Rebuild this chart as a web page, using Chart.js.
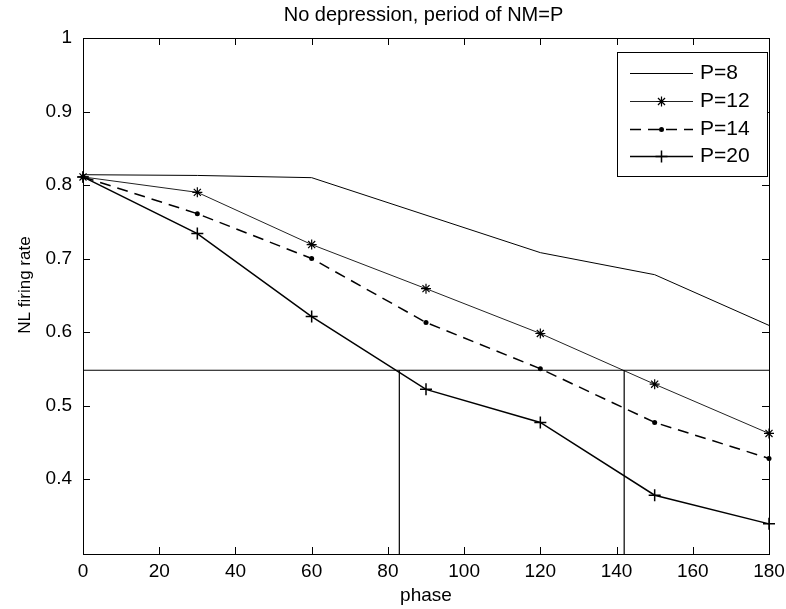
<!DOCTYPE html>
<html><head><meta charset="utf-8">
<script src="https://cdn.jsdelivr.net/npm/chart.js@4/dist/chart.umd.min.js"></script>
<style>html,body{margin:0;padding:0;background:#fff}canvas{display:block}</style>
</head><body>
<canvas id="c" width="786" height="609"></canvas>
<script>
const chartTitle = "No depression, period of NM=P";
const xAxisLabel = "phase";
const yAxisLabel = "NL firing rate";
const seriesNames = ["P=8", "P=12", "P=14", "P=20"];
const phases = [0, 30, 60, 90, 120, 150, 180];
const rateP8  = [0.814, 0.813, 0.810, 0.759, 0.708, 0.678, 0.609];
const rateP12 = [0.811, 0.790, 0.719, 0.659, 0.598, 0.529, 0.462];
const rateP14 = [0.811, 0.761, 0.700, 0.613, 0.550, 0.477, 0.428];
const rateP20 = [0.811, 0.734, 0.621, 0.522, 0.477, 0.378, 0.339];
const xTicks = [0, 20, 40, 60, 80, 100, 120, 140, 160, 180];
const yTicks = [0.4, 0.5, 0.6, 0.7, 0.8, 0.9, 1];
const xMin = 0, xMax = 180, yMin = 0.298, yMax = 1;
const refLevel = 0.548;
const crossPhases = [83, 142];

const FONT = '"Liberation Sans", Arial, Helvetica, sans-serif';
Chart.defaults.font.family = FONT;
Chart.defaults.color = '#000';

const pts = ys => phases.map((p, i) => ({x: p, y: ys[i]}));

const seriesDatasets = [
  {label: seriesNames[0], data: pts(rateP8), borderColor: '#000', borderWidth: 1, pointRadius: 0, pointStyle: false},
  {label: seriesNames[1], data: pts(rateP12), borderColor: '#222', borderWidth: 1, pointStyle: 'star', pointRadius: 5, pointBorderWidth: 1.2},
  {label: seriesNames[2], data: pts(rateP14), borderColor: '#000', borderWidth: 1.5, borderDash: [11, 7], pointStyle: 'circle', pointRadius: 2.5, pointBorderWidth: 0, pointBackgroundColor: '#000'},
  {label: seriesNames[3], data: pts(rateP20), borderColor: '#000', borderWidth: 1.5, pointStyle: 'cross', pointRadius: 6, pointBorderWidth: 1.5}
];
seriesDatasets.forEach(d => { d.fill = false; d.tension = 0; d.clip = false; d.pointBorderColor = d.pointBorderColor || '#000'; });

const refDatasets = [
  {label: 'ref', data: [{x: xMin, y: refLevel}, {x: xMax, y: refLevel}], borderColor: '#000', borderWidth: 1.2, pointRadius: 0, fill: false},
  ...crossPhases.map(p => ({label: 'ref', data: [{x: p, y: yMin}, {x: p, y: refLevel}], borderColor: '#000', borderWidth: 1.2, pointRadius: 0, fill: false}))
];

function drawMarker(ctx, style, x, y, r) {
  ctx.beginPath();
  if (style === 'star') {
    ctx.moveTo(x - r, y); ctx.lineTo(x + r, y);
    ctx.moveTo(x, y - r); ctx.lineTo(x, y + r);
    const d = r * 0.707;
    ctx.moveTo(x - d, y - d); ctx.lineTo(x + d, y + d);
    ctx.moveTo(x - d, y + d); ctx.lineTo(x + d, y - d);
    ctx.stroke();
  } else if (style === 'cross') {
    ctx.moveTo(x - r, y); ctx.lineTo(x + r, y);
    ctx.moveTo(x, y - r); ctx.lineTo(x, y + r);
    ctx.stroke();
  } else if (style === 'circle') {
    ctx.arc(x, y, r, 0, Math.PI * 2);
    ctx.fill();
  }
}

const framePlugin = {
  id: 'frame',
  afterDatasetsDraw(chart) {
    const {ctx, chartArea: a, scales: {x, y}} = chart;
    ctx.save();
    ctx.strokeStyle = '#000'; ctx.lineWidth = 1; ctx.setLineDash([]);
    ctx.strokeRect(Math.round(a.left) + 0.5, Math.round(a.top) + 0.5, Math.round(a.right - a.left), Math.round(a.bottom - a.top));
    const tl = 7;
    ctx.beginPath();
    xTicks.forEach(v => {
      const px = Math.round(x.getPixelForValue(v)) + 0.5;
      ctx.moveTo(px, a.bottom); ctx.lineTo(px, a.bottom - tl);
      ctx.moveTo(px, a.top); ctx.lineTo(px, a.top + tl);
    });
    yTicks.forEach(v => {
      const py = Math.round(y.getPixelForValue(v)) + 0.5;
      ctx.moveTo(a.left, py); ctx.lineTo(a.left + tl, py);
      ctx.moveTo(a.right, py); ctx.lineTo(a.right - tl, py);
    });
    ctx.stroke();
    ctx.restore();
  },
  afterDraw(chart) {
    const ctx = chart.ctx;
    ctx.save();
    ctx.fillStyle = '#000';
    // title
    ctx.font = '20px ' + FONT;
    ctx.textAlign = 'center'; ctx.textBaseline = 'middle';
    ctx.fillText(chartTitle, 423.5, 15);
    // y axis label
    ctx.save();
    ctx.translate(25, 285);
    ctx.rotate(-Math.PI / 2);
    ctx.font = '17px ' + FONT;
    ctx.fillText(yAxisLabel, 0, 0);
    ctx.restore();
    // legend
    const box = {l: 617, t: 52, r: 767, b: 176};
    ctx.fillStyle = '#fff';
    ctx.fillRect(box.l, box.t, box.r - box.l, box.b - box.t);
    ctx.strokeStyle = '#000'; ctx.lineWidth = 1;
    ctx.strokeRect(box.l + 0.5, box.t + 0.5, box.r - box.l, box.b - box.t);
    ctx.font = '21px ' + FONT;
    ctx.textAlign = 'left'; ctx.textBaseline = 'middle';
    seriesDatasets.forEach((d, i) => {
      const yy = Math.round(73 + i * 27.8) + 0.5;
      ctx.strokeStyle = d.borderColor; ctx.lineWidth = d.borderWidth;
      ctx.setLineDash(d.borderDash || []);
      ctx.beginPath(); ctx.moveTo(630, yy); ctx.lineTo(693, yy); ctx.stroke();
      ctx.setLineDash([]);
      ctx.fillStyle = '#000'; ctx.strokeStyle = '#000';
      ctx.lineWidth = d.pointBorderWidth || 1;
      if (d.pointStyle) drawMarker(ctx, d.pointStyle, 661.5, yy, d.pointRadius);
      ctx.fillStyle = '#000';
      ctx.fillText(d.label, 700, yy);
    });
    ctx.restore();
  }
};

new Chart(document.getElementById('c'), {
  type: 'line',
  data: {datasets: [...refDatasets, ...seriesDatasets]},
  options: {
    responsive: false,
    animation: false,
    devicePixelRatio: 1,
    layout: {padding: {top: 38, left: 0, right: 17, bottom: 0}},
    plugins: {legend: {display: false}, title: {display: false}, tooltip: {enabled: false}},
    scales: {
      x: {
        type: 'linear', min: xMin, max: xMax,
        afterBuildTicks: s => { s.ticks = xTicks.map(v => ({value: v})); },
        afterFit: s => { s.height = 55; s.paddingRight = 0; s.paddingLeft = 0; },
        grid: {display: false, drawTicks: false},
        border: {display: false},
        ticks: {font: {size: 19}, color: '#000', padding: 6, maxRotation: 0, autoSkip: false, callback: v => String(v)},
        title: {display: true, text: xAxisLabel, font: {size: 19}, color: '#000', padding: {top: 0, bottom: 2}}
      },
      y: {
        type: 'linear', min: yMin, max: yMax,
        afterBuildTicks: s => { s.ticks = yTicks.map(v => ({value: v})); },
        afterFit: s => { s.width = 83; },
        grid: {display: false, drawTicks: false},
        border: {display: false},
        ticks: {font: {size: 19}, color: '#000', padding: 11, autoSkip: false, callback: v => String(Math.round(v * 10) / 10)},
        title: {display: false}
      }
    }
  },
  plugins: [framePlugin]
});
</script>
</body></html>
